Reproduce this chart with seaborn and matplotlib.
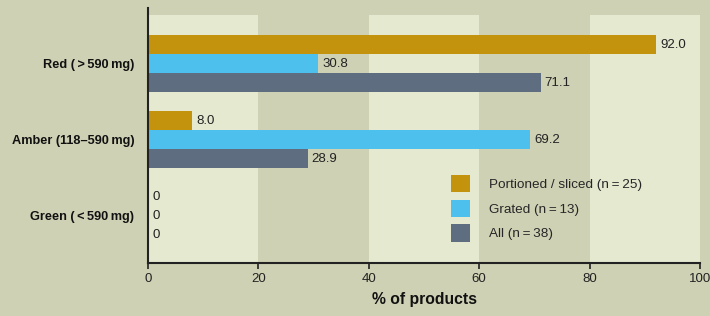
import pandas as pd
import seaborn as sns
import matplotlib.pyplot as plt

"""Sodium traffic-light categories and share of products in each."""
categories = ["Red (\u2009>\u2009590\u2009mg)", "Amber (118\u2013590\u2009mg)", "Green (\u2009<\u2009590\u2009mg)"]
series = ["Portioned / sliced (n\u2009=\u200925)", "Grated (n\u2009=\u200913)", "All (n\u2009=\u200938)"]
portioned = [92.0, 8.0, 0]
grated = [30.8, 69.2, 0]
all_products = [71.1, 28.9, 0]
x_ticks = [0, 20, 40, 60, 80, 100]

df = pd.DataFrame({
    "category": categories * 3,
    "group": [series[0]] * 3 + [series[1]] * 3 + [series[2]] * 3,
    "pct": portioned + grated + all_products,
})

bg = "#CFD1B4"
light = "#E4E9D0"
colors = ["#C4930E", "#4DC0EE", "#5F6D80"]

sns.set_style("white")
plt.rcParams["font.family"] = ["Liberation Sans", "DejaVu Sans"]

fig = plt.figure(figsize=(7.1, 3.16), dpi=100, facecolor=bg)
ax = fig.add_axes([0.2085, 0.168, 0.7775, 0.807])
ax.set_facecolor(bg)

# alternating light bands
for lo in [0, 40, 80]:
    ax.axvspan(lo, lo + 20, ymin=0, ymax=0.973, color=light, zorder=0, lw=0)

sns.barplot(data=df, y="category", x="pct", hue="group", orient="h",
            palette=colors, width=0.75, saturation=1, linewidth=0,
            edgecolor="none", ax=ax, zorder=2)

for cont in ax.containers:
    labels = ["0" if v == 0 else f"{v:.1f}" for v in cont.datavalues]
    ax.bar_label(cont, labels=labels, padding=3, fontsize=9.5, color="#222222")

ax.set_xlim(0, 100)
ax.set_ylim(2.618, -0.737)
ax.set_xticks(x_ticks)
ax.tick_params(axis="x", bottom=True, length=4, width=1.2, color="#222222",
               labelsize=9.5, labelcolor="#222222", pad=3)
ax.tick_params(axis="y", left=False, labelsize=9.2, pad=6.5)
for lab in ax.get_yticklabels():
    lab.set_fontweight("bold")
    lab.set_color("#111111")

ax.set_ylabel("")
ax.set_xlabel("% of products", fontsize=11.3, fontweight="bold", color="#111111", labelpad=5)

for s in ["top", "right"]:
    ax.spines[s].set_visible(False)
for s in ["left", "bottom"]:
    ax.spines[s].set_color("#222222")
    ax.spines[s].set_linewidth(1.5)

handles, labs = ax.get_legend_handles_labels()
ax.legend(handles, labs, loc="upper left", bbox_to_anchor=(0.549, 0.345),
          frameon=False, fontsize=9.7, borderaxespad=0, borderpad=0,
          handlelength=1.4, handleheight=1.6, handletextpad=1.4, labelspacing=0.55)

plt.savefig("out.png", dpi=100, facecolor=bg)
